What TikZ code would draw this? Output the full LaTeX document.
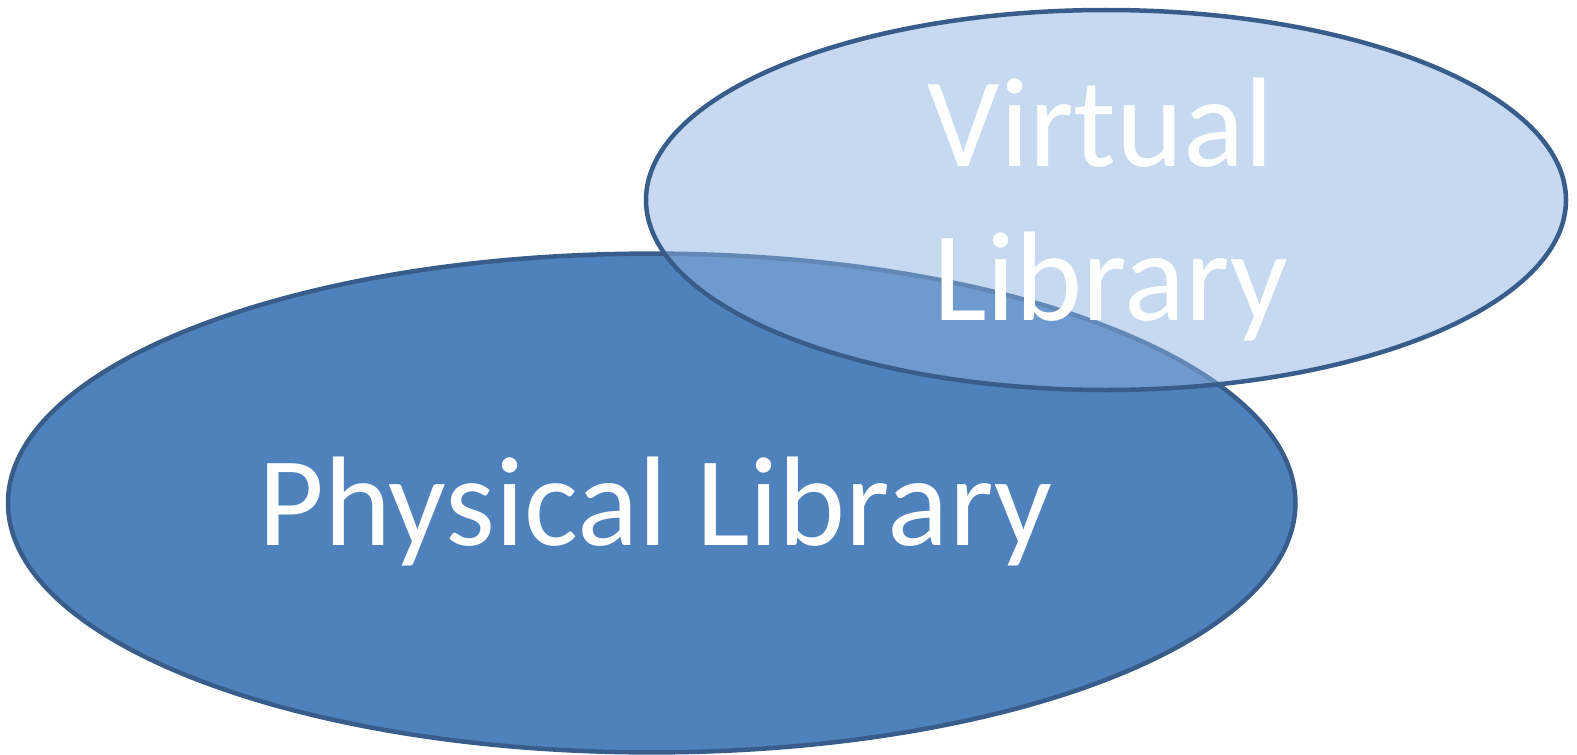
\documentclass[tikz,border=0pt]{standalone}
\usepackage{fontspec}
\setmainfont{Carlito}
\definecolor{physfill}{HTML}{4F81BD}
\definecolor{virtfill}{HTML}{8DB3E2}
\definecolor{edge}{HTML}{385D8A}
\tikzset{
  edgeline/.style={draw=edge, line width=4.5bp},
  lbl/.style={text=white, font=\fontsize{128}{154}\selectfont, align=center, inner sep=0pt}
}
\begin{document}
\begin{tikzpicture}[x=1bp,y=-1bp]
\useasboundingbox (0,0) rectangle (1577,755);
\fill[physfill] (651.7,503) ellipse[x radius=643.7, y radius=249.4];
\draw[edgeline] (651.7,503) ellipse[x radius=643.7, y radius=249.4];
\node[coordinate] (pc) at (651.7,503) {};
\fill[virtfill, fill opacity=0.5] (1106,200) ellipse[x radius=460, y radius=190];
\draw[edgeline] (1106,200) ellipse[x radius=460, y radius=190];
\node[coordinate] (vc) at (1106,200) {};
\node[lbl, anchor=base] (plabel) at (655,545) {Physical Library};
\node[lbl, anchor=base] (vlabel1) at (1101,166) {Virtual};
\node[lbl, anchor=base] (vlabel2) at (1111,320) {Library};
\end{tikzpicture}
\end{document}
